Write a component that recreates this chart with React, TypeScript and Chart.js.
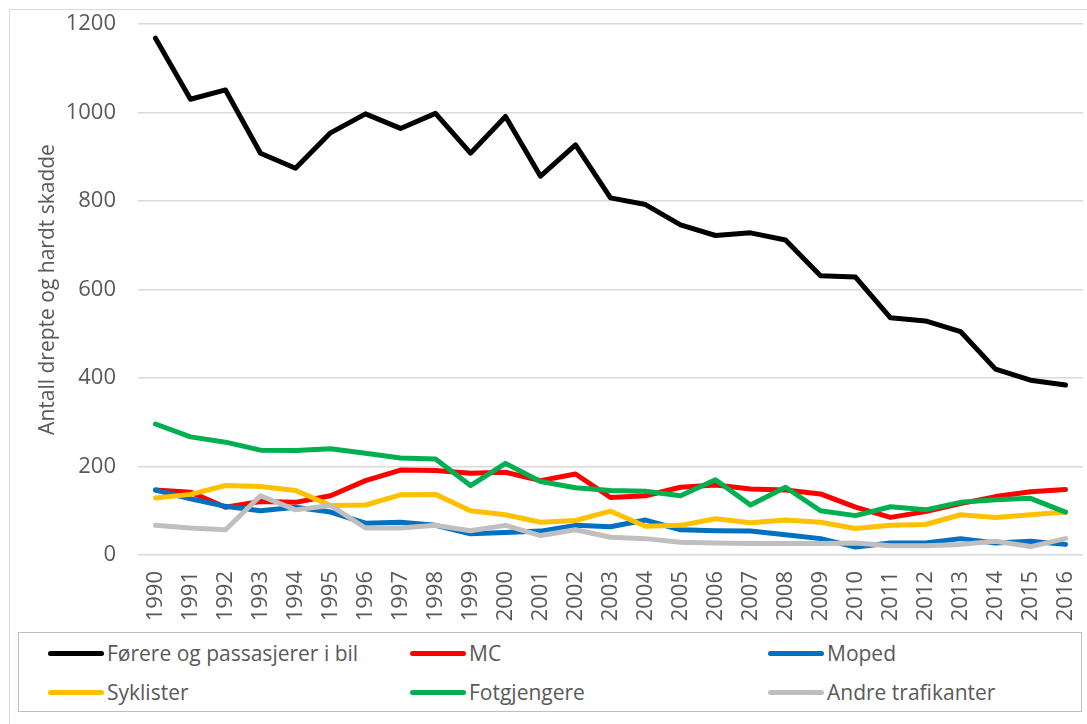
import React, { useEffect, useRef } from "react";
import { Chart, registerables } from "chart.js";

Chart.register(...registerables);

const years = [
  "1990", "1991", "1992", "1993", "1994", "1995", "1996", "1997", "1998", "1999",
  "2000", "2001", "2002", "2003", "2004", "2005", "2006", "2007", "2008", "2009",
  "2010", "2011", "2012", "2013", "2014", "2015", "2016",
];

const forere = [1168, 1030, 1051, 908, 874, 954, 997, 964, 998, 908, 991, 856, 927, 807, 792, 746, 722, 728, 712, 631, 628, 536, 529, 505, 420, 395, 384];
const mc = [147, 142, 108, 121, 119, 134, 168, 192, 191, 185, 187, 168, 183, 130, 134, 153, 158, 149, 147, 138, 108, 85, 98, 116, 132, 143, 148];
const moped = [147, 127, 110, 100, 108, 97, 72, 74, 67, 48, 51, 54, 67, 64, 79, 57, 55, 54, 46, 37, 18, 27, 27, 37, 27, 31, 24];
const syklister = [129, 137, 157, 155, 146, 112, 113, 136, 137, 100, 91, 74, 78, 99, 65, 67, 82, 73, 79, 74, 60, 67, 69, 91, 85, 91, 97];
const fotgjengere = [296, 267, 255, 237, 236, 240, 230, 219, 217, 157, 207, 166, 152, 146, 144, 134, 170, 113, 153, 100, 89, 109, 102, 119, 125, 128, 97];
const andre = [67, 61, 57, 134, 102, 112, 61, 61, 67, 55, 67, 44, 57, 40, 37, 29, 27, 26, 26, 26, 27, 21, 21, 24, 31, 19, 37];

const seriesNames = [
  "Førere og passasjerer i bil",
  "MC",
  "Moped",
  "Syklister",
  "Fotgjengere",
  "Andre trafikanter",
];
const seriesColors = ["#000000", "#FF0000", "#0070C0", "#FFC000", "#00B050", "#BFBFBF"];
const seriesData = [forere, mc, moped, syklister, fotgjengere, andre];

const yTitle = "Antall drepte og hardt skadde";
const FONT = "'Open Sans', 'DejaVu Sans', sans-serif";
const TEXT = "#595959";

export default function App() {
  const ref = useRef<HTMLCanvasElement>(null);

  useEffect(() => {
    if (!ref.current) return;
    const chart = new Chart(ref.current, {
      type: "line",
      data: {
        labels: years,
        datasets: seriesData.map((d, i) => ({
          label: seriesNames[i],
          data: d,
          borderColor: seriesColors[i],
          backgroundColor: seriesColors[i],
          borderWidth: 5,
          pointRadius: 0,
          pointHoverRadius: 0,
          tension: 0,
          fill: false,
          borderJoinStyle: "round" as const,
          borderCapStyle: "round" as const,
          order: seriesData.length - i,
        })),
      },
      options: {
        responsive: false,
        animation: false,
        layout: { padding: { left: 0, right: 4, top: 24, bottom: 0 } },
        plugins: {
          legend: { display: false },
          tooltip: { enabled: false },
        },
        scales: {
          x: {
            offset: true,
            grid: { display: false },
            border: { display: false },
            ticks: {
              autoSkip: false,
              minRotation: 90,
              maxRotation: 90,
              padding: 8,
              color: TEXT,
              font: { family: FONT, size: 22 },
            },
            afterFit: (s: any) => {
              s.height = 632 - 555;
              s.paddingLeft = 0;
              s.paddingRight = 0;
            },
          },
          y: {
            min: 0,
            max: 1200,
            ticks: {
              stepSize: 200,
              padding: 22,
              color: TEXT,
              font: { family: FONT, size: 22 },
              callback: (v: any) => String(v),
            },
            grid: { color: "#D9D9D9", lineWidth: 1.5, drawTicks: false },
            border: { display: false },
            title: {
              display: true,
              text: yTitle,
              color: TEXT,
              font: { family: FONT, size: 21 },
              padding: { top: 35, bottom: 0 },
            },
            afterFit: (s: any) => {
              s.width = 138;
              s.paddingTop = 0;
              s.paddingBottom = 0;
            },
          },
        },
      },
    });
    return () => chart.destroy();
  }, []);

  const legendCols = [48, 410, 768];
  const legendRows = [653, 692];

  return (
    <div
      style={{
        position: "absolute",
        left: 0,
        top: 0,
        width: 1087,
        height: 724,
        overflow: "hidden",
        background: "#ffffff",
        fontFamily: FONT,
      }}
    >
      <div
        style={{
          position: "absolute",
          left: 9,
          top: 9,
          width: 1100,
          height: 740,
          border: "1.5px solid #D9D9D9",
          boxSizing: "border-box",
        }}
      />
      <canvas
        ref={ref}
        width={1087}
        height={632}
        style={{ position: "absolute", left: 0, top: 0, display: "block" }}
      />
      <div
        style={{
          position: "absolute",
          left: 18,
          top: 632,
          width: 1064,
          height: 80,
          border: "1.5px solid #BFBFBF",
          boxSizing: "border-box",
        }}
      />
      {seriesNames.map((name, i) => {
        const col = i % 3;
        const row = Math.floor(i / 3);
        const x = legendCols[col];
        const y = legendRows[row];
        return (
          <div
            key={name}
            style={{
              position: "absolute",
              left: x,
              top: y - 15,
              height: 30,
              display: "flex",
              alignItems: "center",
              whiteSpace: "nowrap",
            }}
          >
            <div
              style={{
                width: 56,
                height: 5,
                borderRadius: 3,
                background: seriesColors[i],
                marginRight: 3,
              }}
            />
            <span style={{ fontSize: 21, color: TEXT, lineHeight: "30px" }}>{name}</span>
          </div>
        );
      })}
    </div>
  );
}
